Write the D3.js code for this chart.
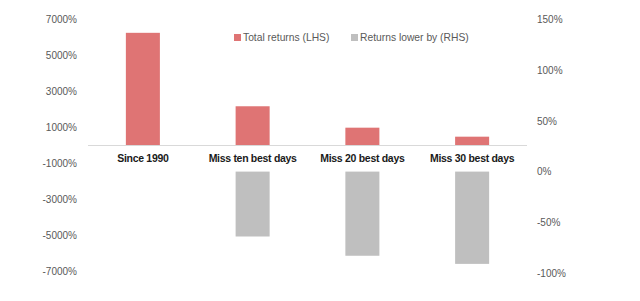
<!DOCTYPE html>
<html>
<head>
<meta charset="utf-8">
<script src="https://cdn.jsdelivr.net/npm/d3@7"></script>
<style>
body { margin: 0; background: #fff; }
.tick-label { font-family: "Liberation Sans", Arial, sans-serif; font-size: 10px; fill: #595959; }
.cat-label { font-family: "Liberation Sans", Arial, sans-serif; font-size: 10.5px; font-weight: bold; fill: #1a1a1a; letter-spacing: -0.3px; }
.legend-text { font-family: "Liberation Sans", Arial, sans-serif; font-size: 10.3px; fill: #595959; }
</style>
</head>
<body>
<div id="chart"></div>
<script>
var categories = ["Since 1990", "Miss ten best days", "Miss 20 best days", "Miss 30 best days"];
var totalReturns = [6260, 2180, 990, 490];
var returnsLower = [0, -64, -83, -91];
var leftTicks = [-7000, -5000, -3000, -1000, 1000, 3000, 5000, 7000];
var rightTicks = [-100, -50, 0, 50, 100, 150];
var seriesNames = ["Total returns (LHS)", "Returns lower by (RHS)"];
var seriesColors = ["#df7474", "#bfbfbf"];

var width = 640, height = 301;

var svg = d3.select("#chart")
	.append("svg")
	.attr("width", width)
	.attr("height", height);

var x = d3.scaleBand()
	.domain(categories)
	.range([88, 527])
	.padding(0);

var yL = d3.scaleLinear()
	.domain([-7000, 7000])
	.range([271.5, 19.5]);

var yR = d3.scaleLinear()
	.domain([-100, 150])
	.range([273, 19.5]);

var barW = x.bandwidth() * 0.31;

// left axis labels
var leftAxis = d3.axisLeft(yL)
	.tickValues(leftTicks)
	.tickSize(0)
	.tickPadding(0)
	.tickFormat(function (d) { return d + "%"; });
svg.append("g")
	.attr("transform", "translate(77,0)")
	.call(leftAxis)
	.call(function (g) { g.select(".domain").remove(); })
	.selectAll("text")
	.attr("class", "tick-label");

// right axis labels
var rightAxis = d3.axisRight(yR)
	.tickValues(rightTicks)
	.tickSize(0)
	.tickPadding(0)
	.tickFormat(function (d) { return d + "%"; });
svg.append("g")
	.attr("transform", "translate(537,0)")
	.call(rightAxis)
	.call(function (g) { g.select(".domain").remove(); })
	.selectAll("text")
	.attr("class", "tick-label");
svg.selectAll(".tick-label").attr("fill", null);
svg.selectAll("g").attr("font-family", null).attr("font-size", null);

// red bars (primary axis)
svg.append("g")
	.selectAll("rect")
	.data(totalReturns)
	.enter()
	.append("rect")
	.attr("x", function (d, i) { return x(categories[i]) + (x.bandwidth() - barW) / 2; })
	.attr("y", function (d) { return yL(Math.max(d, 0)); })
	.attr("width", barW)
	.attr("height", function (d) { return Math.abs(yL(d) - yL(0)); })
	.attr("fill", seriesColors[0]);

// gray bars (secondary axis)
svg.append("g")
	.selectAll("rect")
	.data(returnsLower)
	.enter()
	.append("rect")
	.attr("x", function (d, i) { return x(categories[i]) + (x.bandwidth() - barW) / 2; })
	.attr("y", function (d) { return yR(Math.max(d, 0)); })
	.attr("width", barW)
	.attr("height", function (d) { return Math.abs(yR(d) - yR(0)); })
	.attr("fill", seriesColors[1]);

// category axis line
svg.append("line")
	.attr("x1", 88)
	.attr("x2", 527)
	.attr("y1", yL(0))
	.attr("y2", yL(0))
	.attr("stroke", "#d9d9d9")
	.attr("stroke-width", 1);

// category labels
svg.append("g")
	.selectAll("text")
	.data(categories)
	.enter()
	.append("text")
	.attr("class", "cat-label")
	.attr("x", function (d) { return x(d) + x.bandwidth() / 2; })
	.attr("y", 162)
	.attr("text-anchor", "middle")
	.text(function (d) { return d; });

// legend
var legendX = [234, 351];
var legend = svg.append("g");
seriesNames.forEach(function (name, i) {
	legend.append("rect")
		.attr("x", legendX[i])
		.attr("y", 34)
		.attr("width", 7)
		.attr("height", 7)
		.attr("fill", seriesColors[i]);
	legend.append("text")
		.attr("class", "legend-text")
		.attr("x", legendX[i] + 9)
		.attr("y", 41)
		.text(name);
});
</script>
</body>
</html>
